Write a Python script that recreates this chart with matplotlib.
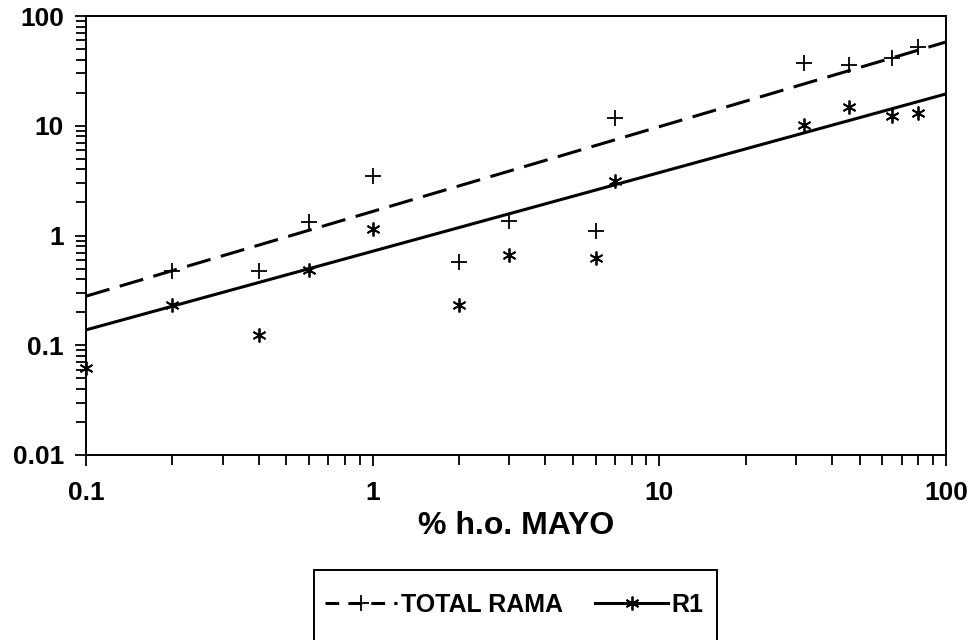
import matplotlib
matplotlib.use("Agg")
import matplotlib.pyplot as plt
from matplotlib.lines import Line2D
from matplotlib.patches import Rectangle
from matplotlib.ticker import LogLocator, FixedFormatter, FixedLocator, NullFormatter

x_total = [0.2, 0.4, 0.6, 1, 2, 3, 6, 7, 32, 46, 65, 80]
total_rama = [0.47, 0.47, 1.33, 3.5, 0.57, 1.36, 1.1, 11.8, 37, 35.5, 41, 52]

x_r1 = [0.1, 0.2, 0.4, 0.6, 1, 2, 3, 6, 7, 32, 46, 65, 80]
r1 = [0.062, 0.235, 0.125, 0.48, 1.15, 0.235, 0.66, 0.63, 3.15, 10.1, 14.7, 12.2, 13]

# Fitted lines (end points)
fit_x = [0.1, 100]
total_fit = [0.28, 58]
r1_fit = [0.138, 19.5]

x_ticks = [0.1, 1, 10, 100]
x_labels = ["0.1", "1", "10", "100"]
y_ticks = [0.01, 0.1, 1, 10, 100]
y_labels = ["0.01", "0.1", "1", "10", "100"]

plt.rcParams['font.family'] = ['Liberation Sans', 'DejaVu Sans']
plt.rcParams['font.weight'] = 'bold'

W, H = 975, 640
fig = plt.figure(figsize=(W / 100, H / 100), dpi=100)
ax = fig.add_axes([86 / W, 1 - 455 / H, (946 - 86) / W, (455 - 16) / H])

ax.set_xscale('log')
ax.set_yscale('log')
ax.set_xlim(0.1, 100)
ax.set_ylim(0.01, 100)

# Regression lines
dash_line, = ax.plot(fit_x, total_fit, color='black', lw=2.2, ls='--')
dash_line.set_dashes((8, 3.5))
ax.plot(fit_x, r1_fit, color='black', lw=2.2, ls='-')

# Point markers
ast = (6, 2, 0)
ax.plot(x_total, total_rama, ls='none', marker='+', ms=11, mew=1.3,
        color='black', clip_on=False)
ax.plot(x_r1, r1, ls='none', marker=ast, ms=10, mew=1.3,
        color='black', clip_on=False)

# Ticks
ax.xaxis.set_major_locator(FixedLocator(x_ticks))
ax.xaxis.set_major_formatter(FixedFormatter(x_labels))
ax.yaxis.set_major_locator(FixedLocator(y_ticks))
ax.yaxis.set_major_formatter(FixedFormatter(y_labels))
ax.xaxis.set_minor_locator(LogLocator(base=10, subs=range(2, 10)))
ax.yaxis.set_minor_locator(LogLocator(base=10, subs=range(2, 10)))
ax.xaxis.set_minor_formatter(NullFormatter())
ax.yaxis.set_minor_formatter(NullFormatter())

ax.tick_params(axis='both', which='both', direction='out', color='black',
               width=1.3, top=False, right=False)
ax.tick_params(axis='both', which='major', length=8)
ax.tick_params(axis='both', which='minor', length=7)
ax.tick_params(axis='x', which='major', labelsize=19, pad=11)
ax.tick_params(axis='y', which='major', labelsize=19, pad=8)
for lab in ax.get_xticklabels() + ax.get_yticklabels():
    lab.set_fontweight('bold')

for sp in ax.spines.values():
    sp.set_linewidth(1.4)
    sp.set_color('black')

ax.set_xlabel('% h.o. MAYO', fontsize=23, fontweight='bold', labelpad=4)

# Legend
h_total = Line2D([], [], color='black', lw=2.2, marker='+', ms=11, mew=1.3)
h_total.set_dashes((4.5, 3))
h_r1 = Line2D([], [], color='black', lw=2.2, ls='-', marker=ast, ms=10, mew=1.3)
leg = fig.legend([h_total, h_r1], ['TOTAL RAMA', 'R1'], loc='center', ncol=2,
                 bbox_to_anchor=(514 / W, 1 - 605 / H),
                 bbox_transform=fig.transFigure, frameon=False,
                 prop={'size': 18, 'weight': 'bold'}, handlelength=2.9,
                 handletextpad=0.15, columnspacing=1.3, borderpad=0.2)
# Box round the legend; its lower edge falls below the picture as in the original
fig.patches.append(Rectangle((314 / W, -10 / H), (717 - 314) / W, (650 - 570) / H,
                             transform=fig.transFigure, fill=False,
                             edgecolor='black', lw=1.4))

fig.savefig('out.png', dpi=100, facecolor='white')
